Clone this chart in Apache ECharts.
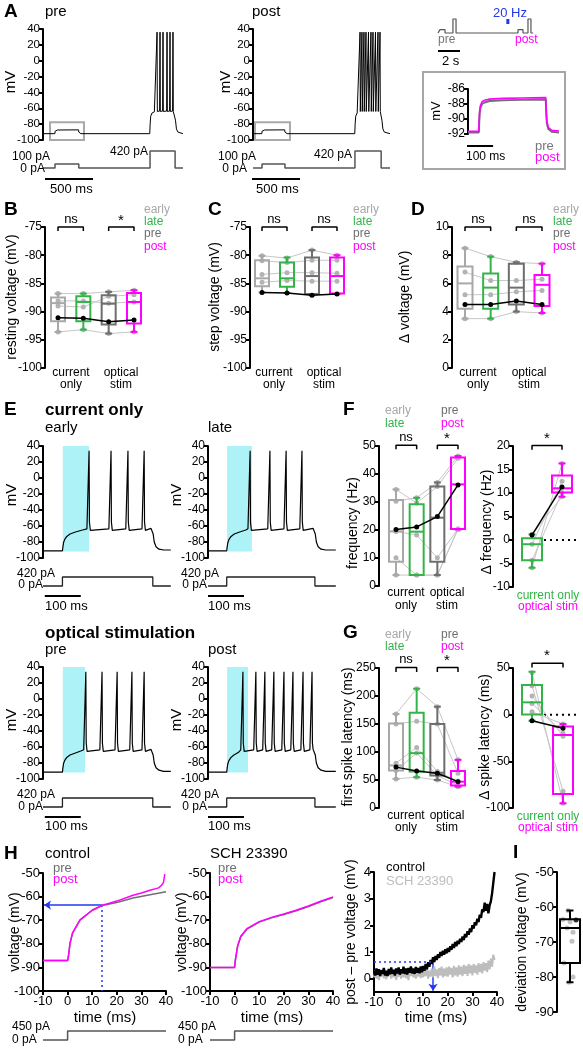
<!DOCTYPE html>
<html><head><meta charset="utf-8">
<script src="https://cdn.jsdelivr.net/npm/echarts@6/dist/echarts.min.js"></script>
<style>html,body{margin:0;padding:0;background:#fff}#c{width:583px;height:1050px}</style>
</head><body><div id="c"></div>
<script>
// ===================== DATA =====================
// Panel A (times in ms, voltages in mV, currents in pA)
const aPreBase   = [[0,-92],[124,-92],[126,-89],[130,-87.8],[150,-87.4],[370,-87.2],[373,-90],[380,-91.5],[395,-92],[1112,-92],[1116,-80],[1122,-70],[1135,-66],[1160,-64.5],[1180,-63]];
const aPreAfter  = [[1365,-63],[1375,-64],[1380,-75],[1390,-86],[1405,-90],[1458,-92]];
const aPreSpikes = [1188,1219,1250,1292,1323,1354];
const aPostBase  = [[0,-92],[92,-92],[94,-89],[98,-87.8],[120,-87.4],[330,-87.2],[333,-90],[340,-91.5],[355,-92],[1060,-92],[1064,-80],[1070,-70],[1085,-66],[1105,-64]];
const aPostAfter = [[1330,-63],[1338,-64],[1343,-75],[1353,-86],[1368,-90],[1427,-92]];
const aPostSpikes= [1115,1135,1156,1177,1203,1229,1250,1276,1302,1323];
const aSpikeShape= [[-4,-63.5],[0,36],[3,-64]];
const aPreCurrent  = [[0,0],[125,0],[125,100],[373,100],[373,0],[1115,0],[1115,420],[1376,420],[1376,0],[1458,0]];
const aPostCurrent = [[0,0],[94,0],[94,100],[333,100],[333,0],[1062,0],[1062,420],[1335,420],[1335,0],[1427,0]];
const aPreBox  = [[73,-77.5],[427,-100]];
const aPostBox = [[21,-77.5],[385,-100]];
// protocol schematic (s, pA)
const protocol = [[0,0],[0.18,0],[0.18,100],[0.64,100],[0.64,0],[1.36,0],[1.36,420],[1.64,420],[1.64,0],[7.27,0],[7.27,100],[7.73,100],[7.73,0],[8.18,0],[8.18,420],[8.45,420],[8.45,0],[8.65,0]];
const stim20Hz = [[6.35,270],[6.35,420]];
// inset (ms, mV)
const insetPre  = [[0,-91.8],[40,-91.8],[41.5,-90.5],[43,-89.3],[46,-88.5],[52,-88],[62,-87.8],[80,-87.6],[130,-87.5],[200,-87.45],[288,-87.4],[289.5,-89],[292,-90.5],[297,-91.3],[310,-91.7],[337,-91.8]];
const insetPost = [[0,-91.65],[40,-91.65],[41.5,-90.2],[43,-89],[46,-88.2],[52,-87.7],[62,-87.5],[80,-87.35],[130,-87.25],[200,-87.2],[288,-87.15],[289.5,-88.8],[292,-90.3],[297,-91.1],[310,-91.5],[337,-91.6]];

// Panels B, C, D: boxes [min,Q1,median,Q3,max] for early, late, pre, post
const bBoxes = [[-93.6,-91.7,-88.5,-87.5,-86.8],[-93.2,-91.7,-88.3,-87.3,-86.8],[-93.9,-92.3,-88.6,-87.1,-86.5],[-93.6,-92.1,-88.3,-86.7,-86.2]];
const bCells = [[-86.8,-86.8,-86.5,-86.2],[-88.1,-88.1,-88.5,-88.3],[-89.0,-89.2,-87.3,-87.0],[-93.6,-93.2,-93.9,-93.6]];
const bBlack = [-91.1,-91.2,-91.8,-91.5];
const cBoxes = [[-86.6,-85.5,-84.1,-80.9,-80.1],[-86.7,-85.6,-84.1,-81.3,-80.4],[-87.1,-86.9,-83.7,-80.4,-79.1],[-86.9,-86.8,-83.7,-80.4,-80.0]];
const cCells = [[-80.1,-80.5,-79.1,-80.0],[-81.0,-81.3,-80.9,-80.9],[-83.4,-83.1,-83.1,-83.2],[-84.8,-84.5,-84.6,-84.6]];
const cBlack = [-86.6,-86.7,-87.1,-86.9];
const dBoxes = [[3.5,4.2,6.0,7.2,8.5],[3.5,4.2,5.7,6.7,7.9],[4.0,4.5,5.7,7.4,7.5],[3.9,4.4,5.9,6.6,7.4]];
const dCells = [[8.5,7.9,7.5,7.4],[6.8,6.2,6.2,6.3],[5.2,5.2,5.4,5.5],[3.5,3.5,4.0,3.9]];
const dBlack = [4.5,4.5,4.75,4.5];

// Panel E traces (ms, mV)
const eEarlyBase = [[0,-91],[54,-91],[55,-87],[57,-81],[60,-77],[66,-73],[75,-70],[90,-67.5],[110,-65],[126,-62]];
const eEarlySpikes = [128,189,236,281];
const eEarlyAfter = [[300,-63],[304,-64],[306,-70],[309,-80],[314,-86],[322,-89],[335,-90],[355,-90]];
const eLateBase = [[0,-91],[52,-91],[53,-87],[55,-81],[58,-77],[64,-73],[73,-70],[88,-67.5],[105,-65],[115,-62]];
const eLateSpikes = [117,172,217,261];
const eLateAfter = [[292,-63],[296,-64],[298,-70],[301,-80],[306,-86],[314,-89],[327,-90],[355,-90]];
const oPreBase = [[0,-91.5],[54,-91.5],[55,-87],[57,-81],[60,-77],[66,-73],[75,-70],[90,-67.5],[105,-65],[117,-61.5]];
const oPreSpikes = [119,164,206,247,281];
const oPreAfter = [[300,-63],[304,-64],[306,-70],[309,-80],[314,-86],[322,-89],[335,-90.5],[355,-90.5]];
const oPostBase = [[0,-91.5],[52,-91.5],[53,-87],[55,-81],[58,-77],[64,-73],[72,-70],[84,-67],[95,-62]];
const oPostSpikes = [97,133,158,183,211,236,264,289];
const oPostAfter = [[292,-63],[296,-64],[298,-70],[301,-80],[306,-86],[314,-89],[327,-90.5],[355,-90.5]];
const eSpikeShape = [[-6,-63.5],[-0.6,-61],[0,34],[1,-55],[3.5,-65.5]];
const eEarlyCurrent = [[0,0],[54,0],[54,420],[305,420],[305,0],[355,0]];
const eLateCurrent  = [[0,0],[52,0],[52,420],[297,420],[297,0],[355,0]];
const eEarlyCyan = [[55,40],[128,-92]];
const eLateCyan  = [[53,40],[122,-92]];
const oPreCyan   = [[55,40],[117,-92]];
const oPostCyan  = [[53,40],[111,-92]];

// Panel F
const fBoxes = [[3.9,8.7,19.5,30.7,34.5],[3.9,3.9,19.4,29.2,31.5],[3.9,8.7,24.4,35.5,37.0],[20.2,20.4,36.3,45.9,46.4]];
const fCells = [[34.5,29.6,35.5,45.6],[30.3,31.5,37.0,46.4],[19.5,18.2,10.1,20.4],[10.1,3.9,3.9,20.2],[3.9,3.9,3.9,20.4]];
const fBlack = [20.2,21.1,24.8,36.1];
const fDeltaBoxes = [[-5.9,-4.3,-0.9,0.36,1.2],[9.2,10.1,11.0,13.7,16.3]];
const fDeltaCells = [[1.2,9.2],[-0.9,12.5],[-4.3,10.1],[-5.9,16.3]];
const fDeltaBlack = [1.05,11.3];
// Panel G
const gBoxes = [[52,67,76,151,168],[55,65,98,170,213],[50,58,63,150,181],[38,40,47,66,86]];
const gCells = [[168,213,181,86],[150,155,150,62],[80,108,65,48],[67,98,58,40],[52,55,50,38]];
const gBlack = [73,66,62,47];
const gDeltaBoxes = [[-6.5,0.3,13.2,31.8,46],[-95,-85,-21.8,-12.8,-10]];
const gDeltaCells = [[45,-95],[31,-82],[20,-23],[12,-20],[3,-10]];
const gDeltaBlack = [-6.5,-14.6];

// Panel H (ms, mV)
const hCtrlPre  = [[-10,-87.1],[0,-87.1],[0.3,-85.6],[1,-79.7],[2,-75.5],[5,-70],[10,-65.8],[14,-63.8],[20,-62.5],[26.6,-60.6],[33.5,-59.2],[40,-57.9]];
const hCtrlPost = [[-10,-87.1],[0,-87.1],[0.3,-85.6],[1,-79.7],[2,-75.5],[5,-70],[10,-65.8],[14,-63.7],[16,-63.1],[20,-61.9],[26.6,-59.4],[30,-58.5],[33.5,-57.3],[37,-56.3],[38.2,-55.2],[39,-54],[39.5,-50.5]];
const hSchPre   = [[-10,-90],[0,-90],[0.3,-87],[1.2,-81.2],[2.5,-77],[5,-73.8],[10,-70.8],[15,-69],[20,-67.6],[25,-66],[30,-64.2],[35,-62.2],[40,-60.4]];
const hSchPost  = [[-10,-90],[0,-90],[0.3,-87],[1.2,-81],[2.5,-76.8],[5,-73.6],[10,-70.6],[15,-68.8],[20,-67.4],[25,-65.8],[30,-64],[35,-62],[40,-60.2]];
const hCurrent  = [[-10,0],[0,0],[0,450],[40,450]];
const hDeviation = {t:14, v:-63.6};
// post - pre difference traces, sampled every 0.5 ms from -10 ms
const hDiffCtrl = [0.30,0.12,0.38,0.15,0.35,0.10,0.32,0.18,0.40,0.12,0.30,0.10,0.36,0.16,0.42,0.18,0.33,0.12,0.38,0.20,
 0.42,0.15,0.35,0.20,0.45,0.18,0.38,0.16,0.40,0.22,0.46,0.20,0.38,0.18,0.44,0.22,0.40,0.20,0.46,0.24,
 0.48,0.30,0.55,0.35,0.62,0.45,0.70,0.55,0.80,0.62,0.85,0.70,0.92,0.78,1.00,0.85,1.05,0.90,1.10,0.95,
 1.15,1.00,1.22,1.08,1.30,1.15,1.38,1.22,1.42,1.30,1.50,1.38,1.58,1.45,1.68,1.55,1.78,1.65,1.88,1.75,
 2.00,1.88,2.12,2.00,2.25,2.12,2.40,2.28,2.60,2.50,2.85,2.55,2.80,2.45,2.75,2.90,3.20,3.60,4.00];
const hDiffSch = [0.05,0.30,0.00,0.25,-0.05,0.28,0.08,0.35,0.02,0.22,-0.02,0.30,0.10,0.32,0.00,0.25,0.05,0.35,-0.05,0.20,
 0.08,0.30,0.00,0.28,0.05,0.35,0.02,0.25,-0.05,0.30,0.10,0.38,0.05,0.28,0.00,0.32,0.08,0.40,0.02,0.30,
 0.05,0.35,0.10,0.42,0.00,0.30,0.08,0.38,0.05,0.45,0.10,0.35,0.02,0.40,0.12,0.45,0.05,0.38,0.10,0.42,
 0.08,0.45,0.15,0.40,0.05,0.48,0.12,0.42,0.08,0.50,0.15,0.45,0.10,0.52,0.18,0.48,0.10,0.55,0.20,0.50,
 0.12,0.55,0.22,0.50,0.15,0.58,0.25,0.55,0.20,0.62,0.30,0.58,0.25,0.68,0.35,0.75,0.45,0.90,0.70];
const hDiffStart = -10, hDiffStep = 0.5, hDiffThreshold = 0.62;
// Panel I
const iBox = [-81.5,-76,-66,-63.5,-61];
const iPoints = [-61,-63.6,-64.2,-66,-67.2,-69.8,-76,-80,-81.5];
const iJitter = [-2,-7,0,-3,3,2,-6,3,-1];
const iBlack = [6,-63.7];

// ===================== STYLE / HELPERS =====================
const FONT = '"Liberation Sans", Arial, Helvetica, sans-serif';
const C_EARLY='#a8a8a8', C_LATE='#33b44a', C_PRE='#6e6e6e', C_POST='#ff00ff', C_PT='#b3b3b3', C_LN='#c6c6c6', C_BLUE='#2438ee', C_CYAN='#acf2f6';
const BOXCOL = [C_EARLY, C_LATE, C_PRE, C_POST];
const grid=[], xAxis=[], yAxis=[], series=[], graphic=[];
function lin(p0,v0,p1,v1){return p=>v0+(p-p0)*(v1-v0)/(p1-p0);}
function rngX(l,w,p0,v0,p1,v1){const f=lin(p0,v0,p1,v1);return [f(l),f(l+w)];}
function rngY(t,h,p0,v0,p1,v1){const f=lin(p0,v0,p1,v1);return [f(t+h),f(t)];}
function hid(r){return {show:false,min:r[0],max:r[1]};}
function yAx(min,max,interval,fs,extra){
  return Object.assign({show:true,min,max,interval,
    axisLine:{show:true,onZero:false,lineStyle:{color:'#000',width:2}},
    axisTick:{show:true,length:4,lineStyle:{color:'#000',width:2}},
    axisLabel:{show:true,fontSize:fs||12,color:'#000',margin:3,fontFamily:FONT},
    splitLine:{show:false}},extra||{});
}
function xAx(min,max,interval){
  return {show:true,min,max,interval,position:'bottom',
    axisLine:{show:true,onZero:false,lineStyle:{color:'#000',width:2}},
    axisTick:{show:true,length:4,lineStyle:{color:'#000',width:2}},
    axisLabel:{show:true,fontSize:13,color:'#000',margin:4,fontFamily:FONT},
    splitLine:{show:false}};
}
function addGrid(l,t,w,h,xa,ya){
  const i=grid.length;
  grid.push({left:l,top:t,width:w,height:h,containLabel:false,outerBoundsMode:'none',show:false});
  xAxis.push(Object.assign({type:'value',gridIndex:i,splitLine:{show:false}},xa));
  yAxis.push(Object.assign({type:'value',gridIndex:i,splitLine:{show:false}},ya));
  return i;
}
function addLine(gi,data,color,width,extra){
  series.push(Object.assign({type:'line',xAxisIndex:gi,yAxisIndex:gi,data,symbol:'none',showSymbol:false,clip:false,
    animation:false,silent:true,lineStyle:{color,width},itemStyle:{color},z:5},extra||{}));
}
function addArea(gi,corners,style,z){
  series.push({type:'line',xAxisIndex:gi,yAxisIndex:gi,data:[corners[0]],symbol:'none',showSymbol:false,lineStyle:{width:0},
    silent:true,animation:false,z:z||1,
    markArea:{silent:true,animation:false,itemStyle:style,data:[[{coord:corners[0]},{coord:corners[1]}]]}});
}
function withSpikes(base,spk,shape,after){
  const pts=base.concat(after);
  spk.forEach(t=>shape.forEach(s=>pts.push([t+s[0],s[1]])));
  return pts.sort((a,b)=>a[0]-b[0]);
}
function addBoxes(gi,boxes,xs,colors,w){
  const data=boxes.map((b,i)=>[xs[i]].concat(b).concat([i]));
  series.push({type:'custom',xAxisIndex:gi,yAxisIndex:gi,data,silent:true,animation:false,z:6,clip:false,
    encode:{x:0,y:[1,2,3,4,5]},
    renderItem:(p,api)=>{
      const x=api.value(0), col=colors[api.value(6)];
      const pt=v=>api.coord([x,v]);
      const mn=pt(api.value(1)),q1=pt(api.value(2)),md=pt(api.value(3)),q3=pt(api.value(4)),mx=pt(api.value(5));
      const cx=md[0],h=w/2,c=3.5,st={stroke:col,lineWidth:2};
      const L=(x1,y1,x2,y2)=>({type:'line',shape:{x1,y1,x2,y2},style:st});
      return {type:'group',children:[
        {type:'rect',shape:{x:cx-h,y:q3[1],width:w,height:q1[1]-q3[1]},style:{stroke:col,lineWidth:2,fill:'rgba(0,0,0,0)'}},
        L(cx-h,md[1],cx+h,md[1]),
        L(cx,q3[1],cx,mx[1]),L(cx-c,mx[1],cx+c,mx[1]),
        L(cx,q1[1],cx,mn[1]),L(cx-c,mn[1],cx+c,mn[1])]};
    }});
}
function addCells(gi,cells,xs){
  cells.forEach(c=>addLine(gi,c.map((v,i)=>[xs[i],v]),C_LN,1,{symbol:'circle',showSymbol:true,symbolSize:5,itemStyle:{color:C_PT},z:4}));
}
function addBlack(gi,black,xs){
  addLine(gi,black.map((v,i)=>[xs[i],v]),'#000',1.5,{symbol:'circle',showSymbol:true,symbolSize:5,itemStyle:{color:'#000'},z:8});
}
function bracket(gi,x0,x1,yt,yb){addLine(gi,[[x0,yb],[x0,yt],[x1,yt],[x1,yb]],'#000',1.5,{z:8});}
function T(x,y,s,size,o){o=o||{};
  graphic.push({type:'text',x,y,rotation:o.r?Math.PI/2:0,silent:true,z:100,
    style:{text:s,fill:o.c||'#000',font:(o.b?'bold ':'')+size+'px '+FONT,
      textAlign:o.a||'left',textVerticalAlign:'middle',align:o.a||'left',verticalAlign:'middle'}});
}

// ===================== PANEL A =====================
{
  const g1=addGrid(43,29,140,111,hid([0,140/0.096]),yAx(-100,40,20,11.5));
  addArea(g1,aPreBox,{color:'rgba(0,0,0,0)',borderColor:'#a9a9a9',borderWidth:2},3);
  addLine(g1,withSpikes(aPreBase,aPreSpikes,aSpikeShape,aPreAfter),'#000',1);
  const c1=addGrid(43,145,140,40,hid([0,140/0.096]),hid(rngY(145,40,168,0,151,420)));
  addLine(c1,aPreCurrent,'#555',1.5);
  addLine(c1,[[21,-272],[521,-272]],'#000',2);
  const g2=addGrid(253,29,137,111,hid([0,137/0.096]),yAx(-100,40,20,11.5));
  addArea(g2,aPostBox,{color:'rgba(0,0,0,0)',borderColor:'#a9a9a9',borderWidth:2},3);
  addLine(g2,withSpikes(aPostBase,aPostSpikes,aSpikeShape,aPostAfter),'#000',1);
  const c2=addGrid(253,145,137,40,hid([0,137/0.096]),hid(rngY(145,40,168,0,151,420)));
  addLine(c2,aPostCurrent,'#555',1.5);
  addLine(c2,[[-10,-272],[490,-272]],'#000',2);
  // protocol
  const p=addGrid(438,15,96,40,hid([0,96/11]),hid(rngY(15,40,33,0,19,420)));
  addLine(p,protocol,'#555',1.2);
  addLine(p,stim20Hz,C_BLUE,3);
  addLine(p,[[0,-540],[2,-540]],'#000',2);
  // inset
  const ins=addGrid(468,89,91,45,hid([0,91/0.27]),yAx(-92,-86,2,12));
  addLine(ins,insetPre,'#707070',2);
  addLine(ins,insetPost,C_POST,1.6,{z:6});
  addLine(ins,[[-7,-93.6],[93,-93.6]],'#000',2);
  graphic.push({type:'rect',shape:{x:423,y:72,width:142,height:97},style:{stroke:'#a6a6a6',lineWidth:2,fill:'rgba(0,0,0,0)'},silent:true,z:90});
  T(4,12,'A',19,{b:1}); T(45,12,'pre',15); T(252,12,'post',15);
  T(11,82,'mV',15,{r:1,a:'center'}); T(226,82,'mV',15,{r:1,a:'center'});
  T(50,157,'100 pA',12,{a:'right'}); T(45,169,'0 pA',12,{a:'right'}); T(148,152,'420 pA',12,{a:'right'});
  T(256,157,'100 pA',12,{a:'right'}); T(247,169,'0 pA',12,{a:'right'}); T(352,155,'420 pA',12,{a:'right'});
  T(50,189,'500 ms',13); T(256,189,'500 ms',13);
  T(493,13,'20 Hz',13,{c:C_BLUE}); T(438,40,'pre',12,{c:'#777'}); T(515,40,'post',12,{c:C_POST}); T(442,61,'2 s',13);
  T(436,111,'mV',13,{r:1,a:'center'}); T(466,157,'100 ms',12); T(535,146,'pre',13,{c:'#777'}); T(535,157,'post',13,{c:C_POST});
}
// ===================== PANELS B C D =====================
const X4=[0,1,2,3];
function boxPanel(l,w,c0,c3,yr,interval,boxes,cells,black,bw,brY){
  const gi=addGrid(l,227,w,141,hid(rngX(l,w,c0,0,c3,3)),yAx(yr[0],yr[1],interval,12));
  addCells(gi,cells,X4);
  addBoxes(gi,boxes,X4,BOXCOL,bw);
  addBlack(gi,black,X4);
  bracket(gi,0,1,brY[0],brY[1]); bracket(gi,2,3,brY[0],brY[1]);
  return gi;
}
boxPanel(45,100,58,134,[-100,-75],5,bBoxes,bCells,bBlack,14,[-75,-75.7]);
boxPanel(250,100,262,337,[-100,-75],5,cBoxes,cCells,cBlack,14,[-75,-75.7]);
boxPanel(452,103,465,542,[0,10],2,dBoxes,dCells,dBlack,15,[10,9.72]);
[[4,144,'B'],[208,353,'C'],[411,553,'D']].forEach(([lx,gx,L])=>{
  T(lx,210,L,19,{b:1});
  T(gx,210,'early',12,{c:C_EARLY}); T(gx,222,'late',12,{c:C_LATE}); T(gx,234,'pre',12,{c:C_PRE}); T(gx,247,'post',12,{c:C_POST});
});
T(12,297,'resting voltage (mV)',14,{r:1,a:'center'});
T(215,297,'step voltage (mV)',14,{r:1,a:'center'});
T(405,297,'Δ voltage (mV)',14,{r:1,a:'center'});
[[71,121,'ns','*'],[274,324,'ns','ns'],[478,529,'ns','ns']].forEach(([a,b,s1,s2])=>{
  T(a,219,s1,13,{a:'center'}); T(b,s2==='*'?221:219,s2,s2==='*'?15:13,{a:'center'});
  T(a,373,'current',12,{a:'center'}); T(a,385,'only',12,{a:'center'});
  T(b,373,'optical',12,{a:'center'}); T(b,385,'stim',12,{a:'center'});
});
// ===================== PANEL E =====================
function ePanel(l,t,base,spk,after,cyan,cur,ct,barX){
  const gi=addGrid(l,t,128,112,hid([0,128/0.36]),yAx(-100,40,20));
  addArea(gi,cyan,{color:C_CYAN},1);
  addLine(gi,withSpikes(base,spk,eSpikeShape,after),'#000',1.2);
  const ci=addGrid(l,ct,128,32,hid([0,128/0.36]),hid(rngY(ct,32,ct+16,0,ct+7,420)));
  addLine(ci,cur,'#222',1.3);
  addLine(ci,[[barX,-466.7],[barX+100,-466.7]],'#000',2);
}
ePanel(43,446,eEarlyBase,eEarlySpikes,eEarlyAfter,eEarlyCyan,eEarlyCurrent,570,5);
ePanel(208,446,eLateBase,eLateSpikes,eLateAfter,eLateCyan,eLateCurrent,570,0);
ePanel(43,667,oPreBase,oPreSpikes,oPreAfter,oPreCyan,eEarlyCurrent,791,5);
ePanel(208,667,oPostBase,oPostSpikes,oPostAfter,oPostCyan,eLateCurrent,791,0);
T(4,410,'E',19,{b:1}); T(45,410,'current only',17,{b:1}); T(45,428,'early',15); T(208,428,'late',15);
T(45,633,'optical stimulation',17,{b:1}); T(45,650,'pre',15); T(208,650,'post',15);
[[495,574,585,606],[720,795,807,826]].forEach(([my,y1,y2,y3])=>{
  T(12,my,'mV',15,{r:1,a:'center'}); T(177,my,'mV',15,{r:1,a:'center'});
  T(55,y1,'420 pA',12,{a:'right'}); T(43,y2,'0 pA',12,{a:'right'});
  T(219,y1,'420 pA',12,{a:'right'}); T(207,y2,'0 pA',12,{a:'right'});
  T(45,y3,'100 ms',13); T(208,y3,'100 ms',13);
});
// ===================== PANELS F G =====================
function leftPanel(t,yr,interval,boxes,cells,black,brY){
  const gi=addGrid(379,t,85,140,hid(rngX(379,85,396,0,458,3)),yAx(yr[0],yr[1],interval,12));
  addCells(gi,cells,X4);
  addBoxes(gi,boxes,X4,BOXCOL,14);
  addBlack(gi,black,X4);
  bracket(gi,0,1,brY[0],brY[1]); bracket(gi,2,3,brY[0],brY[1]);
}
function rightPanel(t,h,yr,interval,c1,boxes,cells,black,brY,dotY){
  const gi=addGrid(513,t,67,h,hid(rngX(513,67,532,0,c1,1)),yAx(yr[0],yr[1],interval,12));
  addCells(gi,cells,[0,1]);
  addBoxes(gi,boxes,[0,1],[C_LATE,C_POST],20);
  addBlack(gi,black,[0,1]);
  const f=lin(532,0,c1,1);
  addLine(gi,[[f(544),dotY],[f(578),dotY]],'#000',2,{lineStyle:{color:'#000',width:2,type:[2,4]},z:3});
  bracket(gi,0,1,brY[0],brY[1]);
}
leftPanel(446,[0,50],10,fBoxes,fCells,fBlack,[50.3,48.8]);
rightPanel(446,141,[-10,20],5,562,fDeltaBoxes,fDeltaCells,fDeltaBlack,[20.1,19.2],0);
leftPanel(668,[0,250],50,gBoxes,gCells,gBlack,[251,243]);
rightPanel(668,140,[-100,50],50,563,gDeltaBoxes,gDeltaCells,gDeltaBlack,[55,50.5],0);
[[343,410,411,424,437,593,606,596,607,439,'F'],[343,633,635,647,659,816,828,817,828,661,'G']].forEach(([lx,ly,l1,l2,ny,cy1,cy2,ry1,ry2,sy,L])=>{
  T(lx,ly,L,19,{b:1});
  T(385,l1,'early',12,{c:C_EARLY}); T(385,l2,'late',12,{c:C_LATE}); T(441,l1,'pre',12,{c:C_PRE}); T(441,l2,'post',12,{c:C_POST});
  T(406,ny,'ns',13,{a:'center'}); T(447,sy,'*',15,{a:'center'}); T(547,sy-(L==='G'?5:0),'*',15,{a:'center'});
  T(406,cy1,'current',12,{a:'center'}); T(406,cy2,'only',12,{a:'center'});
  T(447,cy1,'optical',12,{a:'center'}); T(447,cy2,'stim',12,{a:'center'});
  T(548,ry1,'current only',12,{a:'center',c:C_LATE}); T(548,ry2,'optical stim',12,{a:'center',c:C_POST});
});
T(353,523,'frequency (Hz)',14,{r:1,a:'center'}); T(487,522,'Δ frequency (Hz)',14,{r:1,a:'center'});
T(348,737,'first spike latency (ms)',14,{r:1,a:'center'}); T(485,737,'Δ spike latency (ms)',14,{r:1,a:'center'});
// ===================== PANEL H =====================
{
  const h1=addGrid(43,873,123,118,xAx(-10,40,10),yAx(-100,-50,10,13));
  addLine(h1,hCtrlPre,'#707070',1.5,{markLine:{silent:true,animation:false,symbol:['none','arrow'],symbolSize:7,label:{show:false},
    lineStyle:{color:C_BLUE,width:1.5,type:'solid'},data:[[{coord:[hDeviation.t,hDeviation.v]},{coord:[-9.6,hDeviation.v]}]]}});
  addLine(h1,hCtrlPost,C_POST,1.5,{z:6,markLine:{silent:true,animation:false,symbol:['none','none'],label:{show:false},
    lineStyle:{color:C_BLUE,width:1.5,type:[2,3]},data:[[{coord:[hDeviation.t,hDeviation.v]},{coord:[hDeviation.t,-100]}]]}});
  const h2=addGrid(210,873,123,118,xAx(-10,40,10),yAx(-100,-50,10,13));
  addLine(h2,hSchPre,'#707070',1.5);
  addLine(h2,hSchPost,C_POST,1.5,{z:6});
  const hc1=addGrid(43,1025,123,20,hid([-10,40]),hid(rngY(1025,20,1040,0,1031,450)));
  addLine(hc1,hCurrent,'#555',1.5);
  const hc2=addGrid(210,1025,123,20,hid([-10,40]),hid(rngY(1025,20,1040,0,1031,450)));
  addLine(hc2,hCurrent,'#555',1.5);
  const h3=addGrid(374,872,123,120,xAx(-10,40,10),yAx(-0.5,4,1,13,{axisTick:{show:true,length:4,customValues:[0,1,2,3,4],lineStyle:{color:'#000',width:2}},axisLabel:{show:true,fontSize:13,color:'#000',margin:3,fontFamily:FONT,customValues:[0,1,2,3,4]}}));
  addLine(h3,hDiffSch.map((v,i)=>[hDiffStart+i*hDiffStep,v]),'#bdbdbd',2,{markLine:{silent:true,animation:false,symbol:['none','arrow'],symbolSize:7,label:{show:false},
    lineStyle:{color:C_BLUE,width:1.5,type:'solid'},data:[[{coord:[hDeviation.t,hDiffThreshold]},{coord:[hDeviation.t,-0.45]}]]}});
  addLine(h3,hDiffCtrl.map((v,i)=>[hDiffStart+i*hDiffStep,v]),'#000',2.4,{z:6,markLine:{silent:true,animation:false,symbol:['none','none'],label:{show:false},z:9,
    lineStyle:{color:C_BLUE,width:1.5,type:[2,3]},data:[[{coord:[-10,hDiffThreshold]},{coord:[hDeviation.t,hDiffThreshold]}]]}});
  T(4,854,'H',19,{b:1}); T(45,854,'control',15); T(210,854,'SCH 23390',15);
  T(53,868,'pre',13,{c:C_PRE}); T(53,879,'post',13,{c:C_POST}); T(218,868,'pre',13,{c:C_PRE}); T(218,879,'post',13,{c:C_POST});
  T(15,932,'voltage (mV)',14,{r:1,a:'center'}); T(182,932,'voltage (mV)',14,{r:1,a:'center'});
  T(105,1018,'time (ms)',15,{a:'center'}); T(272,1018,'time (ms)',15,{a:'center'}); T(436,1018,'time (ms)',15,{a:'center'});
  T(12,1027,'450 pA',12); T(12,1040,'0 pA',12); T(178,1027,'450 pA',12); T(178,1040,'0 pA',12);
  T(351,932,'post – pre voltage (mV)',14,{r:1,a:'center'}); T(386,867,'control',13); T(386,881,'SCH 23390',13,{c:'#bdbdbd'});
}
// ===================== PANEL I =====================
{
  const gi=addGrid(557,872,30,140,hid(rngX(557,30,570,0,571,1)),yAx(-90,-50,10,13));
  series.push({type:'scatter',xAxisIndex:gi,yAxisIndex:gi,data:iPoints.map((v,i)=>[iJitter[i],v]),symbolSize:5,itemStyle:{color:C_PT},silent:true,animation:false,z:4});
  addBoxes(gi,[iBox],[0],['#000'],20);
  series.push({type:'scatter',xAxisIndex:gi,yAxisIndex:gi,data:[iBlack],symbolSize:5,itemStyle:{color:'#000'},silent:true,animation:false,z:8});
  T(513,853,'I',19,{b:1}); T(522,942,'deviation voltage (mV)',14,{r:1,a:'center'});
}

const chart=echarts.init(document.getElementById('c'),null,{renderer:'canvas'});
chart.setOption({animation:false,backgroundColor:'#fff',textStyle:{fontFamily:FONT},grid,xAxis,yAxis,series,graphic:{elements:graphic}});
</script></body></html>
